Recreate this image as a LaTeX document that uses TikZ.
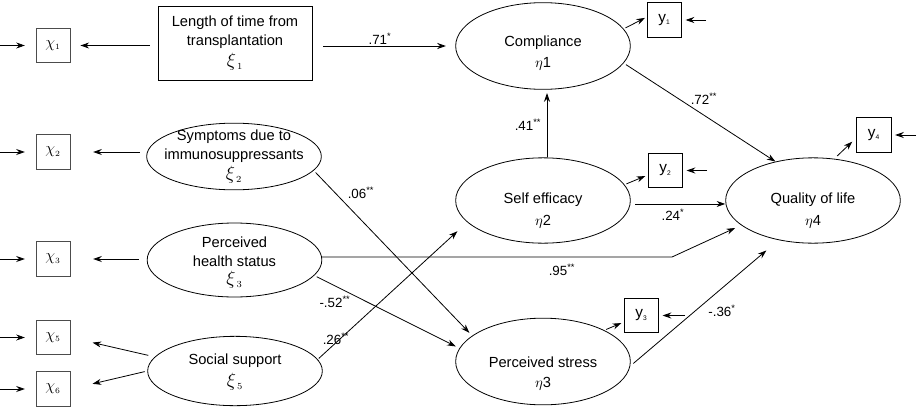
\documentclass[tikz,border=0pt]{standalone}
\usepackage{fontspec}
\setmainfont{Liberation Sans}
\usetikzlibrary{shapes.geometric,arrows.meta,calc}
\begin{document}
\begin{tikzpicture}[x=0.75pt,y=-0.75pt,
 arr/.style={-{Stealth[length=6.5pt,width=4.5pt]}, line width=0.6pt},
 lat/.style={ellipse, draw, line width=0.6pt, minimum width=131pt, inner sep=0pt},
 obsx/.style={rectangle, draw=black!70, line width=0.7pt, minimum width=25.5pt, minimum height=26pt, inner sep=0pt, font=\fontsize{12}{14}\selectfont},
 obsy/.style={rectangle, draw, line width=0.6pt, minimum width=26pt, minimum height=26pt, inner sep=0pt, font=\fontsize{11.5}{13}\selectfont},
 txt/.style={font=\fontsize{11}{14}\selectfont, align=center, inner sep=0pt},
 sym/.style={font=\fontsize{14}{15}\selectfont, inner sep=0pt},
 lbl/.style={font=\fontsize{10}{11}\selectfont, inner sep=0pt},
]
\useasboundingbox (0,0) rectangle (917,407);

% observed x boxes
\node[obsx] (x1) at (53,45.5) {$\chi_{\scriptscriptstyle 1}$};
\node[obsx] (x2) at (53,152) {$\chi_{\scriptscriptstyle 2}$};
\node[obsx] (x3) at (53,259) {$\chi_{\scriptscriptstyle 3}$};
\node[obsx] (x5) at (53,337.5) {$\chi_{\scriptscriptstyle 5}$};
\node[obsx] (x6) at (53,389) {$\chi_{\scriptscriptstyle 6}$};

% observed y boxes
\node[obsy] (y1) at (664.5,20) {y\textsubscript{\tiny 1}};
\node[obsy] (y2) at (665.5,170.5) {y\textsubscript{\tiny 2}};
\node[obsy] (y3) at (641.5,315.5) {y\textsubscript{\tiny 3}};
\node[obsy] (y4) at (874,135) {y\textsubscript{\tiny 4}};

% exogenous
\node[rectangle, draw, line width=0.6pt, minimum width=115.5pt, minimum height=56pt, inner sep=0pt] (len) at (235,43.5) {};
\node[txt] (lentxt) at (235,32.5) {Length of time from\\transplantation};
\node[sym] (xi1) at (235,62) {$\xi_{\,\scriptscriptstyle 1}$};

\node[lat, minimum height=50pt] (symp) at (234,156.5) {};
\node[txt] (symptxt) at (234,146) {Symptoms due to\\immunosuppressants};
\node[sym] (xi2) at (234,175) {$\xi_{\,\scriptscriptstyle 2}$};

\node[lat, minimum height=55.5pt] (health) at (234.5,260) {};
\node[txt] (healthtxt) at (234.5,252) {Perceived\\health status};
\node[sym] (xi3) at (234.5,280) {$\xi_{\,\scriptscriptstyle 3}$};

\node[lat, minimum height=52pt] (soc) at (235,371) {};
\node[txt] (soctxt) at (235,361) {Social support};
\node[sym] (xi5) at (235,382) {$\xi_{\,\scriptscriptstyle 5}$};

% endogenous
\node[lat, minimum height=65pt] (comp) at (543,46) {};
\node[txt] (comptxt) at (543,43) {Compliance};
\node[txt] (eta1) at (543,64) {$\eta$1};

\node[lat, minimum height=64pt] (se) at (543,200.5) {};
\node[txt] (setxt) at (543,200) {Self efficacy};
\node[txt] (eta2) at (543,222) {$\eta$2};

\node[lat, minimum height=65pt] (stress) at (543,361.5) {};
\node[txt] (stresstxt) at (543,362) {Perceived stress};
\node[txt] (eta3) at (543,384) {$\eta$3};

\node[lat, minimum height=64pt] (qol) at (813,200.5) {};
\node[txt] (qoltxt) at (813,200) {Quality of life};
\node[txt] (eta4) at (813,222) {$\eta$4};

% error inputs
\coordinate (ix1) at (0,45.5);
\coordinate (ix2) at (0,152);
\coordinate (ix3) at (0,259);
\coordinate (ix5) at (0,337.5);
\coordinate (ix6) at (0,389);
\foreach \i in {1,2,3,5,6}{\draw[arr] (ix\i) -- ([xshift=-8pt]x\i.west);}
\coordinate (iy1) at (706,20);
\coordinate (iy2) at (707,170.5);
\coordinate (iy3) at (685,315.5);
\coordinate (iy4) at (916,135);
\foreach \i in {1,2,3,4}{\draw[arr] (iy\i) -- ([xshift=2.5pt]y\i.east);}

% measurement arrows
\draw[arr, shorten <=6pt, shorten >=7.5pt] (len.west |- x1.east) -- (x1.east);
\draw[arr, shorten <=5pt, shorten >=17pt] (x2.east -| symp.west) -- (x2.east);
\draw[arr, shorten <=6pt, shorten >=17pt] (x3.east -| health.west) -- (x3.east);
\draw[arr, shorten <=5pt, shorten >=17pt] (soc.170) -- (x5.east);
\draw[arr, shorten <=2pt, shorten >=17pt] (soc.west) -- (x6.east);
\draw[arr, shorten <=1.5pt, shorten >=1.5pt] (comp.12) -- ([yshift=2.25pt]y1.west);
\draw[arr, shorten <=1.5pt, shorten >=2pt] (se.11) -- ([yshift=-3.4pt]y2.west);
\draw[arr, shorten <=1.5pt, shorten >=2pt] (stress.27) -- ([yshift=-4.9pt]y3.west);
\draw[arr, shorten <=3pt] (qol.63) -- ([yshift=-5pt,xshift=-3pt]y4.west);

% structural paths
\draw[arr, shorten <=8pt, shorten >=7pt] (len.east |- comp.west) -- (comp.west);
\node[lbl] (l71) at (380,39) {.71\textsuperscript{*}};

\draw[arr, shorten <=2pt] (comp.-12.7) -- (qol.134);
\node[lbl] (l72) at (704,99) {.72\textsuperscript{**}};

\draw[arr, shorten >=2.5pt] ([xshift=3pt]se.north) -- ([xshift=3pt]comp.south);
\node[lbl] (l41) at (528,125) {.41\textsuperscript{**}};

\draw[arr, shorten <=3.4pt] ([yshift=-2.6pt]se.east) -- ([yshift=-2.6pt]qol.west);
\node[lbl] (l24) at (673,215) {.24\textsuperscript{*}};

\draw[arr, shorten <=3pt, shorten >=12pt] (stress.-3.5) -- (qol.229.5);
\node[lbl] (l36) at (722,311) {-.36\textsuperscript{*}};

\coordinate (bend) at (672,257);
\draw[arr, shorten >=5pt] (health.east |- bend) -- (bend) -- (qol.199);
\node[lbl] (l95) at (562,270) {.95\textsuperscript{**}};

\draw[arr, shorten <=2pt, shorten >=3pt] (symp.-10) -- (stress.160);
\node[lbl] (l06) at (361,193) {.06\textsuperscript{**}};

\draw[arr, shorten <=2pt, shorten >=3pt] (health.-11.6) -- (stress.171);
\node[lbl] (l52) at (335,302) {-.52\textsuperscript{**}};

\draw[arr, shorten <=1pt, shorten >=10pt] (soc.8) -- (se.196.4);
\node[lbl] (l26) at (336,339) {.26\textsuperscript{**}};
\end{tikzpicture}
\end{document}
